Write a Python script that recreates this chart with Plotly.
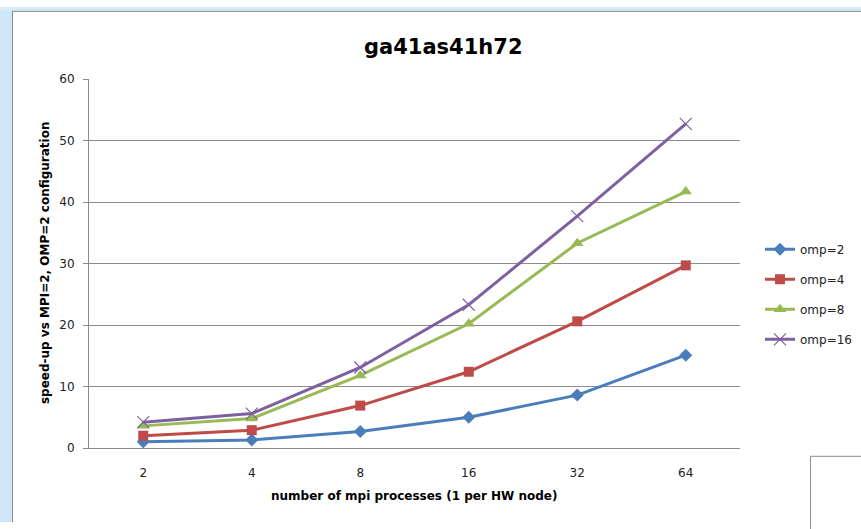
import plotly.graph_objects as go

W, H = 861, 529

categories = ["2", "4", "8", "16", "32", "64"]
omp2 = [1.0, 1.3, 2.7, 5.0, 8.6, 15.1]
omp4 = [2.0, 2.9, 6.9, 12.4, 20.6, 29.7]
omp8 = [3.6, 4.8, 11.8, 20.2, 33.3, 41.7]
omp16 = [4.2, 5.6, 13.1, 23.3, 37.7, 52.7]
series_names = ["omp=2", "omp=4", "omp=8", "omp=16"]
y_ticks = [0, 10, 20, 30, 40, 50, 60]

colors = ["#4a7ebb", "#be4b48", "#98b954", "#7d60a0"]
symbols = ["diamond", "square", "triangle-up", "x-thin"]
sizes = [10, 10, 11, 12]

def px(x):
    return x / W

def py(y):
    return 1 - y / H

fig = go.Figure()
for name, vals, c, s, sz in zip(series_names, [omp2, omp4, omp8, omp16], colors, symbols, sizes):
    marker = dict(symbol=s, size=sz, color=c)
    if s == "x-thin":
        marker["line"] = dict(color=c, width=1.2)
    fig.add_trace(go.Scatter(
        x=categories, y=vals, name=name, mode="lines+markers", legendgroup=name,
        line=dict(color=c, width=3), marker=marker,
    ))

font_family = "DejaVu Sans, Verdana, sans-serif"

fig.update_layout(
    width=W, height=H,
    margin=dict(l=0, r=0, t=0, b=0),
    paper_bgcolor="white", plot_bgcolor="white",
    font=dict(family=font_family, size=12, color="#222"),
    showlegend=True,
    legend=dict(x=px(760), y=py(234), xanchor="left", yanchor="top",
                font=dict(size=12, color="#222"), tracegroupgap=11,
                itemwidth=30, bgcolor="rgba(0,0,0,0)"),
    xaxis=dict(type="category", domain=[px(89), px(740)], range=[-0.5, 5.5],
               showgrid=False, showline=True, linecolor="#8c8c8c", linewidth=1,
               ticks="", ticklabelstandoff=14, tickfont=dict(size=12, color="#222"),
               anchor="y", fixedrange=True),
    yaxis=dict(domain=[py(453), py(74)], range=[0, 60], tickvals=y_ticks,
               showgrid=True, gridcolor="#8c8c8c", gridwidth=1,
               showline=True, linecolor="#8c8c8c", linewidth=1,
               ticks="outside", ticklen=5, tickcolor="#8c8c8c",
               ticklabelstandoff=6, tickfont=dict(size=12, color="#222"),
               zeroline=False, anchor="x", fixedrange=True),
    annotations=[
        dict(text="<b>ga41as41h72</b>", x=px(443), y=py(41), xref="paper", yref="paper",
             showarrow=False, font=dict(size=21, color="#000"), xanchor="center", yanchor="middle"),
        dict(text="<b>number of mpi processes (1 per HW node)</b>", x=px(414), y=py(502),
             xref="paper", yref="paper", showarrow=False, font=dict(size=12, color="#000"),
             xanchor="center", yanchor="middle"),
        dict(text="<b>speed-up vs MPI=2, OMP=2 configuration</b>", x=px(45), y=py(263),
             xref="paper", yref="paper", showarrow=False, textangle=-90,
             font=dict(size=12, color="#000"), xanchor="center", yanchor="middle"),
    ],
    shapes=[
        dict(type="rect", xref="paper", yref="paper", x0=0, x1=px(12), y0=0, y1=1,
             fillcolor="#cfe6f8", line=dict(width=0), layer="below"),
        dict(type="rect", xref="paper", yref="paper", x0=0, x1=1, y0=py(4), y1=1,
             fillcolor="#d6ebfa", line=dict(width=0), layer="below"),
        dict(type="line", xref="paper", yref="paper", x0=px(12.5), x1=px(12.5), y0=0, y1=py(4),
             line=dict(color="#8c8c8c", width=1)),
        dict(type="line", xref="paper", yref="paper", x0=px(12.5), x1=1, y0=py(4.5), y1=py(4.5),
             line=dict(color="#8c8c8c", width=1)),
        dict(type="rect", xref="paper", yref="paper", x0=px(810.5), x1=px(870), y0=py(540), y1=py(461.5),
             fillcolor="white", line=dict(color="#8c8c8c", width=1)),
    ],
)

fig.write_html("out.html", config={"displayModeBar": False},
               post_script="document.body.style.margin='0';document.body.style.overflow='hidden';")
